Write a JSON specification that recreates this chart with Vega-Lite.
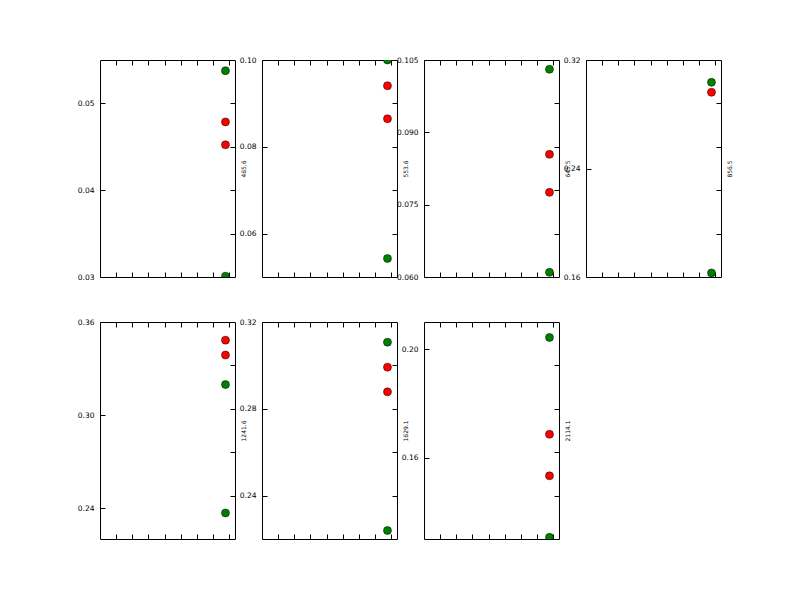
{
  "$schema": "https://vega.github.io/schema/vega-lite/v6.json",
  "padding": {"left": 76, "top": 55, "right": 5, "bottom": 5},
  "background": "white",
  "datasets": {
    "pts": [
      {"p": "465.6", "s": "bound", "x": 7.77, "v": 0.05377},
      {"p": "465.6", "s": "estimate", "x": 7.77, "v": 0.04787},
      {"p": "465.6", "s": "estimate", "x": 7.77, "v": 0.04523},
      {"p": "465.6", "s": "bound", "x": 7.77, "v": 0.0301},
      {"p": "553.6", "s": "bound", "x": 7.77, "v": 0.1},
      {"p": "553.6", "s": "estimate", "x": 7.77, "v": 0.09406},
      {"p": "553.6", "s": "estimate", "x": 7.77, "v": 0.08646},
      {"p": "553.6", "s": "bound", "x": 7.77, "v": 0.05427},
      {"p": "645.5", "s": "bound", "x": 7.77, "v": 0.10307},
      {"p": "645.5", "s": "estimate", "x": 7.77, "v": 0.08543},
      {"p": "645.5", "s": "estimate", "x": 7.77, "v": 0.07755},
      {"p": "645.5", "s": "bound", "x": 7.77, "v": 0.06096},
      {"p": "856.5", "s": "estimate", "x": 7.77, "v": 0.2962},
      {"p": "856.5", "s": "bound", "x": 7.77, "v": 0.30356},
      {"p": "856.5", "s": "bound", "x": 7.77, "v": 0.163},
      {"p": "1241.6", "s": "estimate", "x": 7.77, "v": 0.3483},
      {"p": "1241.6", "s": "estimate", "x": 7.77, "v": 0.3387},
      {"p": "1241.6", "s": "bound", "x": 7.77, "v": 0.3196},
      {"p": "1241.6", "s": "bound", "x": 7.77, "v": 0.2368},
      {"p": "1629.1", "s": "bound", "x": 7.77, "v": 0.3107},
      {"p": "1629.1", "s": "estimate", "x": 7.77, "v": 0.2992},
      {"p": "1629.1", "s": "estimate", "x": 7.77, "v": 0.2878},
      {"p": "1629.1", "s": "bound", "x": 7.77, "v": 0.2239},
      {"p": "2114.1", "s": "bound", "x": 7.77, "v": 0.2043},
      {"p": "2114.1", "s": "estimate", "x": 7.77, "v": 0.1686},
      {"p": "2114.1", "s": "estimate", "x": 7.77, "v": 0.1533},
      {"p": "2114.1", "s": "bound", "x": 7.77, "v": 0.1306}
    ]
  },
  "data": {"name": "pts"},
  "columns": 4,
  "spacing": {"row": 45, "column": 27},
  "bounds": "flush",
  "concat": [
    {
      "width": 135, "height": 217,
      "transform": [{"filter": "datum.p == '465.6'"}],
      "layer": [
        {"mark": {"type": "point", "filled": true, "shape": "circle", "size": 64, "stroke": "black", "strokeWidth": 0.5, "opacity": 1, "clip": true},
         "encoding": {
           "x": {"field": "x", "type": "quantitative", "scale": {"domain": [0, 8.36], "nice": false, "zero": false}, "axis": {"orient": "bottom", "values": [1,2,3,4,5,6,7,8], "labels": false, "title": null}},
           "y": {"field": "v", "type": "quantitative", "scale": {"domain": [0.03, 0.055], "nice": false, "zero": false}, "axis": {"orient": "left", "values": [0.03, 0.04, 0.05], "format": ".2f", "title": null}},
           "fill": {"field": "s", "type": "nominal", "scale": {"domain": ["bound", "estimate"], "range": ["#008000", "#ff0000"]}, "legend": null}
         }},
        {"mark": {"type": "point", "opacity": 0},
         "encoding": {
           "x": {"field": "x", "type": "quantitative", "scale": {"domain": [0, 8.36], "nice": false, "zero": false}, "axis": {"orient": "top", "values": [1,2,3,4,5,6,7,8], "labels": false, "title": null}},
           "y": {"field": "v", "type": "quantitative", "scale": {"domain": [0.03, 0.055], "nice": false, "zero": false}, "axis": {"orient": "right", "values": [0.035, 0.04, 0.045, 0.05], "labels": false, "title": "465.6"}}
         }}
      ],
      "resolve": {"axis": {"x": "independent", "y": "independent"}}
    },
    {
      "width": 135, "height": 217,
      "transform": [{"filter": "datum.p == '553.6'"}],
      "layer": [
        {"mark": {"type": "point", "filled": true, "shape": "circle", "size": 64, "stroke": "black", "strokeWidth": 0.5, "opacity": 1, "clip": true},
         "encoding": {
           "x": {"field": "x", "type": "quantitative", "scale": {"domain": [0, 8.36], "nice": false, "zero": false}, "axis": {"orient": "bottom", "values": [1,2,3,4,5,6,7,8], "labels": false, "title": null}},
           "y": {"field": "v", "type": "quantitative", "scale": {"domain": [0.05, 0.1], "nice": false, "zero": false}, "axis": {"orient": "left", "values": [0.06, 0.08, 0.1], "format": ".2f", "title": null}},
           "fill": {"field": "s", "type": "nominal", "scale": {"domain": ["bound", "estimate"], "range": ["#008000", "#ff0000"]}, "legend": null}
         }},
        {"mark": {"type": "point", "opacity": 0},
         "encoding": {
           "x": {"field": "x", "type": "quantitative", "scale": {"domain": [0, 8.36], "nice": false, "zero": false}, "axis": {"orient": "top", "values": [1,2,3,4,5,6,7,8], "labels": false, "title": null}},
           "y": {"field": "v", "type": "quantitative", "scale": {"domain": [0.05, 0.1], "nice": false, "zero": false}, "axis": {"orient": "right", "values": [0.06, 0.07, 0.08, 0.09], "labels": false, "title": "553.6"}}
         }}
      ],
      "resolve": {"axis": {"x": "independent", "y": "independent"}}
    },
    {
      "width": 135, "height": 217,
      "transform": [{"filter": "datum.p == '645.5'"}],
      "layer": [
        {"mark": {"type": "point", "filled": true, "shape": "circle", "size": 64, "stroke": "black", "strokeWidth": 0.5, "opacity": 1, "clip": true},
         "encoding": {
           "x": {"field": "x", "type": "quantitative", "scale": {"domain": [0, 8.36], "nice": false, "zero": false}, "axis": {"orient": "bottom", "values": [1,2,3,4,5,6,7,8], "labels": false, "title": null}},
           "y": {"field": "v", "type": "quantitative", "scale": {"domain": [0.06, 0.105], "nice": false, "zero": false}, "axis": {"orient": "left", "values": [0.06, 0.075, 0.09, 0.105], "format": ".3f", "title": null}},
           "fill": {"field": "s", "type": "nominal", "scale": {"domain": ["bound", "estimate"], "range": ["#008000", "#ff0000"]}, "legend": null}
         }},
        {"mark": {"type": "point", "opacity": 0},
         "encoding": {
           "x": {"field": "x", "type": "quantitative", "scale": {"domain": [0, 8.36], "nice": false, "zero": false}, "axis": {"orient": "top", "values": [1,2,3,4,5,6,7,8], "labels": false, "title": null}},
           "y": {"field": "v", "type": "quantitative", "scale": {"domain": [0.06, 0.105], "nice": false, "zero": false}, "axis": {"orient": "right", "values": [0.069, 0.078, 0.087, 0.096], "labels": false, "title": "645.5"}}
         }}
      ],
      "resolve": {"axis": {"x": "independent", "y": "independent"}}
    },
    {
      "width": 135, "height": 217,
      "transform": [{"filter": "datum.p == '856.5'"}],
      "layer": [
        {"mark": {"type": "point", "filled": true, "shape": "circle", "size": 64, "stroke": "black", "strokeWidth": 0.5, "opacity": 1, "clip": true},
         "encoding": {
           "x": {"field": "x", "type": "quantitative", "scale": {"domain": [0, 8.36], "nice": false, "zero": false}, "axis": {"orient": "bottom", "values": [1,2,3,4,5,6,7,8], "labels": false, "title": null}},
           "y": {"field": "v", "type": "quantitative", "scale": {"domain": [0.16, 0.32], "nice": false, "zero": false}, "axis": {"orient": "left", "values": [0.16, 0.24, 0.32], "format": ".2f", "title": null}},
           "fill": {"field": "s", "type": "nominal", "scale": {"domain": ["bound", "estimate"], "range": ["#008000", "#ff0000"]}, "legend": null}
         }},
        {"mark": {"type": "point", "opacity": 0},
         "encoding": {
           "x": {"field": "x", "type": "quantitative", "scale": {"domain": [0, 8.36], "nice": false, "zero": false}, "axis": {"orient": "top", "values": [1,2,3,4,5,6,7,8], "labels": false, "title": null}},
           "y": {"field": "v", "type": "quantitative", "scale": {"domain": [0.16, 0.32], "nice": false, "zero": false}, "axis": {"orient": "right", "values": [0.192, 0.224, 0.256, 0.288], "labels": false, "title": "856.5"}}
         }}
      ],
      "resolve": {"axis": {"x": "independent", "y": "independent"}}
    },
    {
      "width": 135, "height": 217,
      "transform": [{"filter": "datum.p == '1241.6'"}],
      "layer": [
        {"mark": {"type": "point", "filled": true, "shape": "circle", "size": 64, "stroke": "black", "strokeWidth": 0.5, "opacity": 1, "clip": true},
         "encoding": {
           "x": {"field": "x", "type": "quantitative", "scale": {"domain": [0, 8.36], "nice": false, "zero": false}, "axis": {"orient": "bottom", "values": [1,2,3,4,5,6,7,8], "labels": false, "title": null}},
           "y": {"field": "v", "type": "quantitative", "scale": {"domain": [0.22, 0.36], "nice": false, "zero": false}, "axis": {"orient": "left", "values": [0.24, 0.3, 0.36], "format": ".2f", "title": null}},
           "fill": {"field": "s", "type": "nominal", "scale": {"domain": ["bound", "estimate"], "range": ["#008000", "#ff0000"]}, "legend": null}
         }},
        {"mark": {"type": "point", "opacity": 0},
         "encoding": {
           "x": {"field": "x", "type": "quantitative", "scale": {"domain": [0, 8.36], "nice": false, "zero": false}, "axis": {"orient": "top", "values": [1,2,3,4,5,6,7,8], "labels": false, "title": null}},
           "y": {"field": "v", "type": "quantitative", "scale": {"domain": [0.22, 0.36], "nice": false, "zero": false}, "axis": {"orient": "right", "values": [0.248, 0.276, 0.304, 0.332], "labels": false, "title": "1241.6"}}
         }}
      ],
      "resolve": {"axis": {"x": "independent", "y": "independent"}}
    },
    {
      "width": 135, "height": 217,
      "transform": [{"filter": "datum.p == '1629.1'"}],
      "layer": [
        {"mark": {"type": "point", "filled": true, "shape": "circle", "size": 64, "stroke": "black", "strokeWidth": 0.5, "opacity": 1, "clip": true},
         "encoding": {
           "x": {"field": "x", "type": "quantitative", "scale": {"domain": [0, 8.36], "nice": false, "zero": false}, "axis": {"orient": "bottom", "values": [1,2,3,4,5,6,7,8], "labels": false, "title": null}},
           "y": {"field": "v", "type": "quantitative", "scale": {"domain": [0.22, 0.32], "nice": false, "zero": false}, "axis": {"orient": "left", "values": [0.24, 0.28, 0.32], "format": ".2f", "title": null}},
           "fill": {"field": "s", "type": "nominal", "scale": {"domain": ["bound", "estimate"], "range": ["#008000", "#ff0000"]}, "legend": null}
         }},
        {"mark": {"type": "point", "opacity": 0},
         "encoding": {
           "x": {"field": "x", "type": "quantitative", "scale": {"domain": [0, 8.36], "nice": false, "zero": false}, "axis": {"orient": "top", "values": [1,2,3,4,5,6,7,8], "labels": false, "title": null}},
           "y": {"field": "v", "type": "quantitative", "scale": {"domain": [0.22, 0.32], "nice": false, "zero": false}, "axis": {"orient": "right", "values": [0.24, 0.26, 0.28, 0.3], "labels": false, "title": "1629.1"}}
         }}
      ],
      "resolve": {"axis": {"x": "independent", "y": "independent"}}
    },
    {
      "width": 135, "height": 217,
      "transform": [{"filter": "datum.p == '2114.1'"}],
      "layer": [
        {"mark": {"type": "point", "filled": true, "shape": "circle", "size": 64, "stroke": "black", "strokeWidth": 0.5, "opacity": 1, "clip": true},
         "encoding": {
           "x": {"field": "x", "type": "quantitative", "scale": {"domain": [0, 8.36], "nice": false, "zero": false}, "axis": {"orient": "bottom", "values": [1,2,3,4,5,6,7,8], "labels": false, "title": null}},
           "y": {"field": "v", "type": "quantitative", "scale": {"domain": [0.13, 0.21], "nice": false, "zero": false}, "axis": {"orient": "left", "values": [0.16, 0.2], "format": ".2f", "title": null}},
           "fill": {"field": "s", "type": "nominal", "scale": {"domain": ["bound", "estimate"], "range": ["#008000", "#ff0000"]}, "legend": null}
         }},
        {"mark": {"type": "point", "opacity": 0},
         "encoding": {
           "x": {"field": "x", "type": "quantitative", "scale": {"domain": [0, 8.36], "nice": false, "zero": false}, "axis": {"orient": "top", "values": [1,2,3,4,5,6,7,8], "labels": false, "title": null}},
           "y": {"field": "v", "type": "quantitative", "scale": {"domain": [0.13, 0.21], "nice": false, "zero": false}, "axis": {"orient": "right", "values": [0.146, 0.162, 0.178, 0.194], "labels": false, "title": "2114.1"}}
         }}
      ],
      "resolve": {"axis": {"x": "independent", "y": "independent"}}
    }
  ],
  "config": {
    "view": {"stroke": "black", "strokeWidth": 1},
    "axis": {
      "grid": false,
      "domain": false,
      "ticks": true,
      "tickColor": "black",
      "tickSize": -5,
      "tickWidth": 1,
      "labelFont": "DejaVu Sans",
      "labelFontSize": 7.5,
      "labelColor": "black",
      "labelPadding": 11,
      "labelOverlap": false,
      "labelBound": false,
      "labelFlush": false,
      "titleFont": "DejaVu Sans",
      "titleFontSize": 6,
      "titleFontWeight": "normal",
      "titleColor": "black"
    },
    "axisRight": {"titleAngle": 270, "titleBaseline": "top", "titlePadding": 5}
  }
}
